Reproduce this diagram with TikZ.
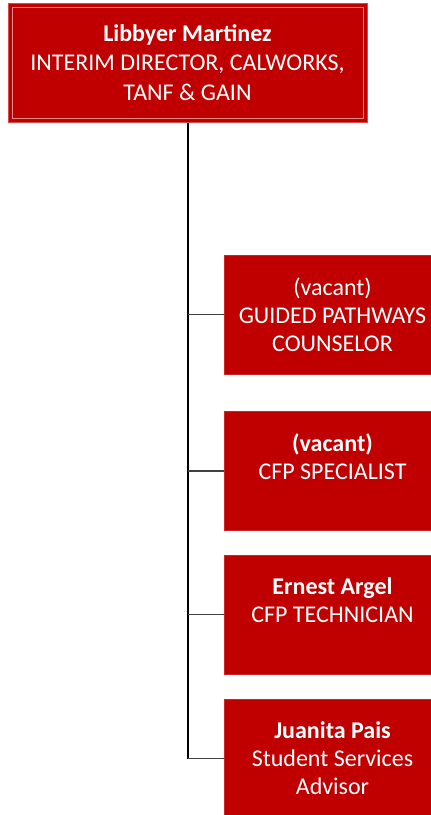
\documentclass[tikz,border=0pt]{standalone}
\usepackage{fontspec}
\setmainfont{Carlito}
\usepackage[dvipsnames]{xcolor}
\definecolor{orgred}{HTML}{C00000}

\begin{document}
\begin{tikzpicture}[x=1pt,y=-1pt,
    head/.style={draw=orgred!70!white,fill=orgred,text=white,line width=1pt,
        minimum width=359pt,minimum height=119pt,align=center,font=\fontsize{24}{29.5}\selectfont},
    member/.style={draw=orgred!85!white,fill=orgred,text=white,line width=0.6pt,
        minimum width=216pt,minimum height=119pt,align=center,font=\fontsize{24}{28}\selectfont}]
        \useasboundingbox (0,0) rectangle (431,815);

        % director
        \node[head] (dir) at (187.5,62.5) {\textbf{Libbyer Martinez}\\INTERIM DIRECTOR, CALWORKS,\\TANF \& GAIN};
        \draw[orgred!45!white,line width=0.8pt] ([xshift=4.5pt,yshift=-4.5pt]dir.north west) rectangle ([xshift=-4.5pt,yshift=4.5pt]dir.south east);

        % staff
        \node[member] (gpc) at (332.5,314.5) {(vacant)\\GUIDED PATHWAYS\\COUNSELOR};
        \node[member] (cfps) at (332.5,471) {\textbf{(vacant)}\\CFP SPECIALIST\\\mbox{}};
        \node[member] (cfpt) at (332.5,614.5) {\textbf{Ernest Argel}\\CFP TECHNICIAN\\\mbox{}};
        \node[member] (ssa) at (332.5,758.5) {\textbf{Juanita Pais}\\Student Services\\Advisor};

        % lines
        \draw[black,line width=2pt] (dir.south) -- (dir.south |- ssa.west);
        \foreach\n in {gpc,cfps,cfpt,ssa}{\draw[black!75!white,line width=1.5pt] (dir.south |- \n.west) -- (\n.west);}
\end{tikzpicture}
\end{document}
